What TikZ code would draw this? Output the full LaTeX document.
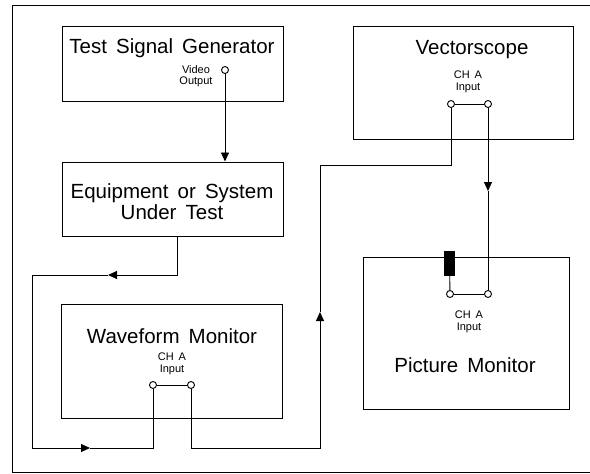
\documentclass[tikz,border=0pt]{standalone}
\usepackage{fontspec}
\setmainfont{Liberation Sans}[WordSpace=1.6]
\usetikzlibrary{arrows.meta}
\begin{document}
\begin{tikzpicture}[x=1pt,y=-1pt,
  box/.style={draw, line width=1pt, inner sep=0pt, minimum width=#1},
  title/.style={font=\fontsize{20.5}{22}\selectfont, inner sep=0pt, anchor=center},
  small/.style={font=\fontsize{11}{11}\selectfont, inner sep=0pt, anchor=center},
  port/.style={circle, draw, fill=white, line width=0.9pt, inner sep=0pt, minimum size=7pt},
  wire/.style={line width=0.9pt},
  tip/.style={-{Triangle[length=9pt,width=8pt]}}
]
\useasboundingbox (0,0) rectangle (590,474);
% outer frame (right side cut off)
\draw[line width=1pt] (590,5) -- (12,5) -- (12,472) -- (590,472);

% boxes
\node[box=221pt, minimum height=75pt] (tsg) at (172.5,63.5) {};
\node[box=221pt, minimum height=74pt] (eut) at (172.5,199) {};
\node[box=221pt, minimum height=114pt] (wfm) at (171.5,361) {};
\node[box=220pt, minimum height=113pt] (vs) at (463,82.5) {};
\node[box=206pt, minimum height=152pt] (pm) at (466,333) {};

% texts
\node[title] (tsgt) at (172,48) {Test Signal Generator};
\node[small, align=center] (vot) at (196,76) {Video\\[0pt]Output};
\node[title] (eut1) at (172,193) {Equipment or System};
\node[title] (eut2) at (172,212) {Under Test};
\node[title] (wfmt) at (172,336) {Waveform Monitor};
\node[small] (wch) at (172,357) {CH\ A};
\node[small] (win) at (172,370) {Input};
\node[title] (vst) at (472,50) {Vectorscope};
\node[small] (vch) at (468,75) {CH\ A};
\node[small] (vin) at (468,88) {Input};
\node[title] (pmt) at (465,365) {Picture Monitor};
\node[small] (pch) at (469,315) {CH\ A};
\node[small] (pin) at (469,328) {Input};

% terminator
\node[draw, fill=black, line width=0.8pt, inner sep=0pt, minimum width=10pt, minimum height=24pt] (term) at (449.5,263.5) {};

% ports
\node[port] (vo) at (225,70) {};
\node[port] (wl) at (153,385) {};
\node[port] (wr) at (191,385) {};
\node[port] (vl) at (451,104) {};
\node[port] (vr) at (488,104) {};
\node[port] (pl) at (450,294) {};
\node[port] (pr) at (488,294) {};

% loop-through links
\draw[wire] (wl) -- (wr);
\draw[wire] (vl) -- (vr);
\draw[wire] (pl) -- (pr);
\draw[wire] (term) -- (pl);

% connection points
\coordinate (e1) at (177,236);
\coordinate (a1) at (108,275);
\coordinate (a2) at (90,448);
\coordinate (a3) at (320,312);
\coordinate (a4) at (488,191);

% TSG -> EUT
\draw[wire, tip] (vo) -- (vo |- eut.north);
% EUT -> WFM
\draw[wire, tip] (e1) |- (a1);
\draw[wire, tip] (a1) -| (32,448) -- (a2);
\draw[wire] (a2) -| (wl);
% WFM -> VS
\draw[wire, tip] (wr) |- (320,448) -- (a3);
\draw[wire] (a3) |- (451,165) -- (vl);
% VS -> PM
\draw[wire, tip] (vr) -- (a4);
\draw[wire] (a4) -- (pr);
\end{tikzpicture}
\end{document}
